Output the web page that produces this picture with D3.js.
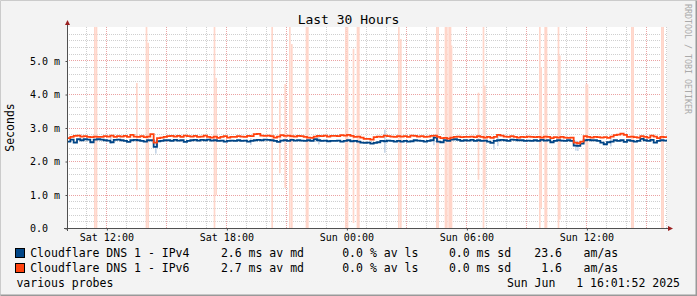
<!DOCTYPE html>
<html>
<head>
<meta charset="utf-8">
<script src="https://cdn.jsdelivr.net/npm/d3@7"></script>
<style>
  html, body { margin: 0; padding: 0; background: #f3f3f3; }
  svg { display: block; }
  text { font-family: "DejaVu Sans Mono", monospace; fill: #000; white-space: pre; }
</style>
</head>
<body>
<svg id="chart" width="697" height="296"></svg>
<script>
'use strict';

// time window (30 hours, ends at the print date)
var startTime = Date.UTC(2025, 4, 31, 10, 1, 52);
var endTime = Date.UTC(2025, 5, 1, 16, 1, 52);
var stepMinutes = 10;
var smokeMinutes = 5;

// median rtt in ms, one value per 10 minutes
var ipv4Median = [
  2.58, 2.64, 2.55, 2.65, 2.62, 2.65, 2.64, 2.56, 2.64, 2.65,
  2.64, 2.62, 2.61, 2.56, 2.63, 2.64, 2.62, 2.60, 2.57, 2.62,
  2.63, 2.62, 2.60, 2.58, 2.62, 2.62, 2.42, 2.59, 2.60, 2.62,
  2.62, 2.60, 2.63, 2.61, 2.62, 2.57, 2.60, 2.62, 2.63, 2.61,
  2.63, 2.62, 2.64, 2.61, 2.62, 2.60, 2.61, 2.58, 2.60, 2.61,
  2.60, 2.62, 2.60, 2.61, 2.58, 2.60, 2.62, 2.63, 2.62, 2.64,
  2.63, 2.62, 2.60, 2.57, 2.61, 2.62, 2.60, 2.63, 2.61, 2.62,
  2.61, 2.60, 2.62, 2.60, 2.65, 2.62, 2.60, 2.61, 2.59, 2.60,
  2.60, 2.61, 2.58, 2.60, 2.62, 2.59, 2.60, 2.58, 2.55, 2.54,
  2.55, 2.52, 2.54, 2.56, 2.60, 2.59, 2.61, 2.60, 2.58, 2.60,
  2.58, 2.60, 2.58, 2.59, 2.62, 2.61, 2.60, 2.58, 2.60, 2.62,
  2.70, 2.58, 2.56, 2.62, 2.60, 2.64, 2.65, 2.63, 2.60, 2.62,
  2.61, 2.63, 2.60, 2.62, 2.60, 2.61, 2.58, 2.54, 2.60, 2.62,
  2.63, 2.62, 2.60, 2.64, 2.63, 2.62, 2.62, 2.60, 2.61, 2.60,
  2.62, 2.60, 2.63, 2.61, 2.62, 2.56, 2.60, 2.62, 2.61, 2.60,
  2.62, 2.60, 2.46, 2.45, 2.52, 2.62, 2.63, 2.62, 2.62, 2.60,
  2.55, 2.50, 2.56, 2.58, 2.62, 2.60, 2.62, 2.57, 2.62, 2.60,
  2.58, 2.60, 2.66, 2.62, 2.60, 2.63, 2.55, 2.60, 2.62, 2.61
];

var ipv6Median = [
  2.68, 2.72, 2.75, 2.76, 2.73, 2.74, 2.72, 2.71, 2.73, 2.72,
  2.72, 2.74, 2.73, 2.76, 2.72, 2.74, 2.73, 2.75, 2.72, 2.78,
  2.73, 2.72, 2.74, 2.71, 2.73, 2.80, 2.55, 2.68, 2.70, 2.72,
  2.74, 2.75, 2.73, 2.75, 2.72, 2.76, 2.74, 2.73, 2.75, 2.72,
  2.73, 2.76, 2.72, 2.70, 2.73, 2.69, 2.72, 2.74, 2.70, 2.72,
  2.72, 2.74, 2.73, 2.72, 2.75, 2.74, 2.80, 2.81, 2.76, 2.75,
  2.76, 2.74, 2.70, 2.73, 2.77, 2.75, 2.76, 2.74, 2.73, 2.75,
  2.74, 2.72, 2.70, 2.69, 2.73, 2.75, 2.74, 2.76, 2.73, 2.75,
  2.75, 2.74, 2.77, 2.76, 2.78, 2.75, 2.72, 2.73, 2.70, 2.66,
  2.66, 2.64, 2.71, 2.73, 2.72, 2.76, 2.74, 2.73, 2.72, 2.74,
  2.73, 2.74, 2.72, 2.76, 2.75, 2.73, 2.74, 2.72, 2.73, 2.75,
  2.76, 2.72, 2.68, 2.69, 2.67, 2.70, 2.72, 2.73, 2.71, 2.72,
  2.72, 2.73, 2.71, 2.74, 2.72, 2.70, 2.72, 2.69, 2.72, 2.78,
  2.76, 2.73, 2.72, 2.74, 2.72, 2.70, 2.72, 2.71, 2.73, 2.72,
  2.71, 2.72, 2.70, 2.73, 2.72, 2.68, 2.71, 2.70, 2.72, 2.70,
  2.69, 2.70, 2.55, 2.53, 2.58, 2.74, 2.72, 2.70, 2.72, 2.71,
  2.70, 2.71, 2.69, 2.73, 2.77, 2.79, 2.82, 2.78, 2.72, 2.73,
  2.71, 2.70, 2.74, 2.72, 2.70, 2.76, 2.73, 2.68, 2.72, 2.71
];

// smoke (std deviation in ms) : minutes after start, sd
var ipv4SmokeAt = [129, 264, 549, 753, 951, 1098, 1278, 1290, 1524, 1530, 1629];
var ipv4SmokeSd = [0.2, 0.4, 0.2, 0.25, 0.69, 0.3, 0.4, 0.35, 0.3, 0.3, 0.25];

var ipv6SmokeAt = [81, 86, 207, 236, 241, 440, 445, 613, 636, 652, 666, 672, 716, 720,
  834, 839, 857, 869, 873, 993, 999, 1107, 1111, 1133, 1137, 1144, 1148, 1151,
  1232, 1247, 1251, 1416, 1420, 1432, 1436, 1472, 1476, 1555, 1559, 1692, 1696, 1782, 1786];
var ipv6SmokeSd = [8, 8, 3.2, 8, 5.6, 8, 3.5, 8, 2.2, 3.1, 8, 5.5, 8, 8,
  8, 8, 5.2, 8, 8, 8, 5.8, 8, 8, 8, 8, 8, 8, 5.5,
  2.6, 8, 3.1, 8, 4.2, 8, 8, 8, 4.9, 3.1, 3.1, 8, 8, 8, 8];

var yTicks = [0, 1, 2, 3, 4, 5];
var yMax = 6;

var seriesNames = ['Cloudflare DNS 1 - IPv4', 'Cloudflare DNS 1 - IPv6'];
var seriesColors = ['#004586', '#ff420e'];
var smokeColors = ['#c6d6e8', '#ffd6ca'];
var avgMedian = ['2.6', '2.7'];
var avgLoss = ['0.0', '0.0'];
var avgSd = ['0.0', '0.0'];
var amas = ['23.6', '1.6'];

(function() {
  var svg = d3.select('#chart');
  var W = 697, H = 296;
  var pLeft = 67, pRight = 667, pTop = 27, pBottom = 228;

  // frame
  svg.append('rect').attr('width', W).attr('height', H).attr('fill', '#f3f3f3');
  svg.append('path').attr('d', 'M0.5,' + (H - 0.5) + 'V0.5H' + (W - 0.5))
    .attr('fill', 'none').attr('stroke', '#cbcbcb');
  svg.append('path').attr('d', 'M0.5,' + (H - 0.5) + 'H' + (W - 0.5) + 'V0.5')
    .attr('fill', 'none').attr('stroke', '#999').attr('stroke-width', 2);

  var x = d3.scaleUtc().domain([startTime, endTime]).range([pLeft, pRight]);
  var y = d3.scaleLinear().domain([0, yMax]).range([pBottom, pTop]);

  svg.append('rect').attr('x', pLeft).attr('y', pTop)
    .attr('width', pRight - pLeft).attr('height', pBottom - pTop).attr('fill', '#fff');

  svg.append('defs').append('clipPath').attr('id', 'plot')
    .append('rect').attr('x', pLeft).attr('y', pTop)
    .attr('width', pRight - pLeft).attr('height', pBottom - pTop);

  // grid
  var grid = svg.append('g');
  var minorY = d3.range(0, yMax * 5 + 1).map(function(d) { return d / 5; });
  function hLines(data, color) {
    grid.append('g').selectAll('line').data(data)
      .enter().append('line')
      .attr('x1', pLeft).attr('x2', pRight)
      .attr('y1', function(d) { return Math.round(y(d)) + 0.5; })
      .attr('y2', function(d) { return Math.round(y(d)) + 0.5; })
      .attr('stroke', color).attr('stroke-dasharray', '1,1');
  }
  function vLines(data, color) {
    grid.append('g').selectAll('line').data(data)
      .enter().append('line')
      .attr('y1', pTop).attr('y2', pBottom)
      .attr('x1', function(d) { return Math.round(x(d)) + 0.5; })
      .attr('x2', function(d) { return Math.round(x(d)) + 0.5; })
      .attr('stroke', color).attr('stroke-dasharray', '1,1');
  }
  hLines(minorY.filter(function(d) { return Math.abs(d - Math.round(d)) > 0.01; }), '#cfcfcf');
  vLines(x.ticks(d3.utcHour.every(1)).filter(function(d) { return d.getUTCHours() % 3 !== 0; }), '#cfcfcf');
  hLines(d3.range(1, yMax), '#eaa2a2');
  vLines(x.ticks(d3.utcHour.every(3)), '#eaa2a2');

  function points(values) {
    var pts = values.map(function(v, i) {
      return { t: startTime + i * stepMinutes * 60000, v: v };
    });
    pts.push({ t: endTime, v: values[values.length - 1] });
    return pts;
  }

  function medianAt(values, minute) {
    return values[Math.min(values.length - 1, Math.floor(minute / stepMinutes))];
  }

  var plot = svg.append('g').attr('clip-path', 'url(#plot)');

  function drawSmoke(at, sd, values, color) {
    plot.append('g').selectAll('rect').data(at)
      .enter().append('rect')
      .attr('x', function(m) { return x(startTime + m * 60000); })
      .attr('width', function(m) { return x(startTime + (m + smokeMinutes) * 60000) - x(startTime + m * 60000); })
      .attr('y', function(m, i) { return y(medianAt(values, m) + sd[i] / 2); })
      .attr('height', function(m, i) { return y(medianAt(values, m) - sd[i] / 2) - y(medianAt(values, m) + sd[i] / 2); })
      .attr('fill', color);
  }

  drawSmoke(ipv4SmokeAt, ipv4SmokeSd, ipv4Median, smokeColors[0]);
  drawSmoke(ipv6SmokeAt, ipv6SmokeSd, ipv6Median, smokeColors[1]);

  var line = d3.line()
    .x(function(d) { return x(d.t); })
    .y(function(d) { return y(d.v); })
    .curve(d3.curveStepAfter);

  [ipv4Median, ipv6Median].forEach(function(values, i) {
    plot.append('path').datum(points(values))
      .attr('d', line)
      .attr('fill', 'none')
      .attr('stroke', seriesColors[i])
      .attr('stroke-width', 1.8);
  });

  // axes
  var axisColor = '#505050';
  var arrowColor = '#9b2020';
  svg.append('line').attr('x1', pLeft - 3).attr('x2', pRight + 1)
    .attr('y1', pBottom + 0.5).attr('y2', pBottom + 0.5).attr('stroke', axisColor);
  svg.append('line').attr('x1', pLeft + 0.5).attr('x2', pLeft + 0.5)
    .attr('y1', pBottom + 3).attr('y2', pTop - 2).attr('stroke', axisColor);
  svg.append('path')
    .attr('d', 'M' + (pRight + 1) + ',' + (pBottom - 2) + 'L' + (pRight + 6) + ',' + (pBottom + 0.5) +
      'L' + (pRight + 1) + ',' + (pBottom + 3) + 'Z')
    .attr('fill', arrowColor);
  svg.append('path')
    .attr('d', 'M' + (pLeft - 2) + ',' + (pTop - 2) + 'L' + (pLeft + 0.5) + ',' + (pTop - 7) +
      'L' + (pLeft + 3) + ',' + (pTop - 2) + 'Z')
    .attr('fill', arrowColor);

  var yAxis = svg.append('g')
    .attr('transform', 'translate(' + pLeft + ',0)')
    .call(d3.axisLeft(y).tickValues(yTicks).tickSize(2)
      .tickFormat(function(d) { return d === 0 ? '0.0' : d3.format('.1f')(d) + ' m'; }));
  yAxis.select('.domain').remove();
  yAxis.selectAll('line').attr('stroke', axisColor).attr('transform', 'translate(0.5,0.5)');
  yAxis.selectAll('text')
    .attr('x', 30 - pLeft).attr('dy', '0.35em')
    .attr('text-anchor', 'start')
    .style('font-family', '"DejaVu Sans Mono", monospace')
    .style('font-size', '10px').attr('fill', '#000');

  var xAxis = svg.append('g')
    .attr('transform', 'translate(0,' + pBottom + ')')
    .call(d3.axisBottom(x).ticks(d3.utcHour.every(6)).tickSize(2)
      .tickFormat(d3.utcFormat('%a %H:%M')));
  xAxis.select('.domain').remove();
  xAxis.selectAll('line').attr('stroke', axisColor).attr('transform', 'translate(0.5,0.5)');
  xAxis.selectAll('text')
    .attr('y', 12.5).attr('dy', 0)
    .style('font-family', '"DejaVu Sans Mono", monospace')
    .style('font-size', '10px').attr('fill', '#000');

  // title, axis title, watermark
  svg.append('text').attr('x', 348.5).attr('y', 23.5)
    .attr('text-anchor', 'middle').style('font-size', '13px')
    .text('Last 30 Hours');
  svg.append('text').attr('transform', 'translate(14,127.5) rotate(-90)')
    .attr('text-anchor', 'middle').style('font-size', '11.5px')
    .text('Seconds');
  svg.append('text').attr('transform', 'translate(685,4) rotate(90)')
    .style('font-size', '8.3px').style('fill', '#aaa')
    .text('RRDTOOL / TOBI OETIKER');

  // legend
  var legend = svg.append('g').style('font-size', '11.5px');
  seriesNames.forEach(function(name, i) {
    var base = 257 + i * 15;
    legend.append('rect').attr('x', 15.5).attr('y', base - 8.5)
      .attr('width', 9).attr('height', 9)
      .attr('fill', seriesColors[i]).attr('stroke', '#000');
    legend.append('text').attr('x', 30.2).attr('y', base).text(name);
    legend.append('text').attr('x', 220.9).attr('y', base).text(avgMedian[i] + ' ms av md');
    legend.append('text').attr('x', 342.2).attr('y', base).text(avgLoss[i] + ' % av ls');
    legend.append('text').attr('x', 448.9).attr('y', base).text(avgSd[i] + ' ms sd');
    legend.append('text').attr('x', 562).attr('y', base).attr('text-anchor', 'end').text(amas[i]);
    legend.append('text').attr('x', 583.6).attr('y', base).text('am/as');
  });
  legend.append('text').attr('x', 16.4).attr('y', 287).text('various probes');
  legend.append('text').attr('x', 680).attr('y', 287).attr('text-anchor', 'end')
    .text(d3.utcFormat('%a %b %e %H:%M:%S %Y')(new Date(endTime)).replace(/ (\d) /, '  $1 '));
}());
</script>
</body>
</html>
